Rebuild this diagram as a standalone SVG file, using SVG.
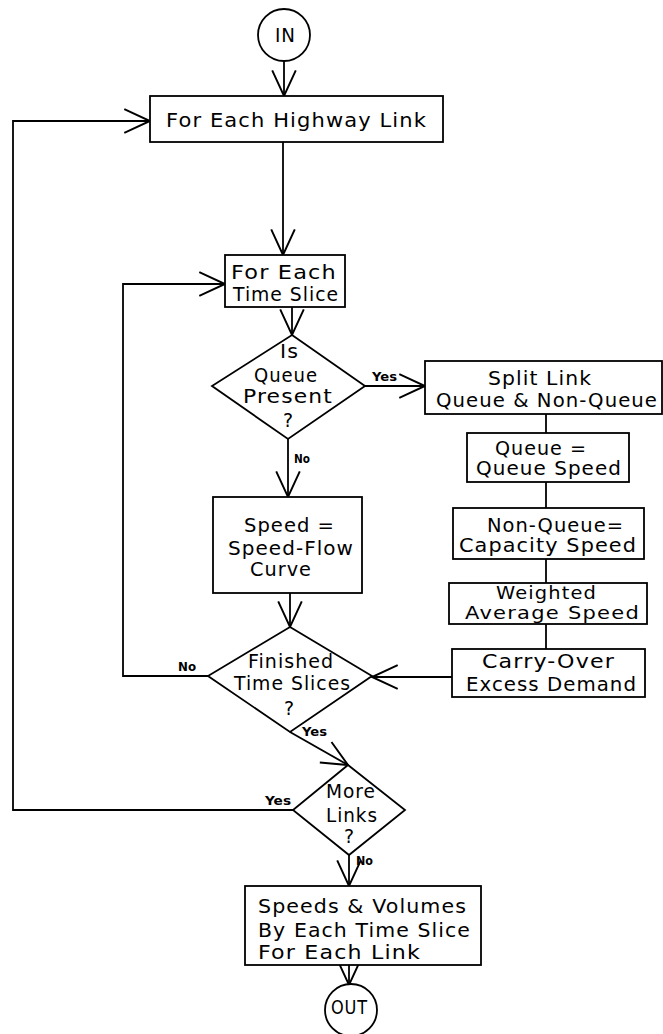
<svg xmlns="http://www.w3.org/2000/svg" width="663" height="1034" viewBox="0 0 663 1034">
<style>
.s{fill:none;stroke:#000;stroke-width:1.8}
.n{fill:#fff;stroke:#000;stroke-width:1.8}
.t{font-family:"DejaVu Sans","Liberation Sans",sans-serif;font-size:19px;letter-spacing:1px;fill:#000}
.sm{font-size:17px}
.l{font-family:"DejaVu Sans","Liberation Sans",sans-serif;font-size:12px;font-weight:bold;fill:#000}
</style>
<defs>
<marker id="a" markerUnits="userSpaceOnUse" markerWidth="30" markerHeight="30" viewBox="-26 -14 28 28" refX="0" refY="0" orient="auto" overflow="visible">
<path d="M-24,-11 L0,0 L-24,11" fill="none" stroke="#000" stroke-width="1.8"/>
</marker>
</defs>
<rect width="663" height="1034" fill="#fff"/>
<g id="connectors">
<path class="s" d="M284,61 V96" marker-end="url(#a)"/>
<path class="s" d="M283,142 V255" marker-end="url(#a)"/>
<path class="s" d="M293,810 H13 V121 H150" marker-end="url(#a)"/>
<path class="s" d="M292,307 V335" marker-end="url(#a)"/>
<path class="s" d="M208,676 H123 V284 H225" marker-end="url(#a)"/>
<path class="s" d="M365,386 H425" marker-end="url(#a)"/>
<path class="s" d="M288,439 V497" marker-end="url(#a)"/>
<path class="s" d="M546,414 V433"/>
<path class="s" d="M546,482 V508"/>
<path class="s" d="M546,559 V583"/>
<path class="s" d="M546,624 V649"/>
<path class="s" d="M452,677 H372" marker-end="url(#a)"/>
<path class="s" d="M290,593 V627" marker-end="url(#a)"/>
<path class="s" d="M290,732 L348,765" marker-end="url(#a)"/>
<path class="s" d="M349,855 V886" marker-end="url(#a)"/>
<path class="s" d="M349,965 V985" marker-end="url(#a)"/>
<text class="l" x="372" y="381" textLength="25" lengthAdjust="spacingAndGlyphs">Yes</text>
<text class="l" x="294" y="463" textLength="16" lengthAdjust="spacingAndGlyphs">No</text>
<text class="l" x="178" y="671" textLength="18" lengthAdjust="spacingAndGlyphs">No</text>
<text class="l" x="302" y="736" textLength="25" lengthAdjust="spacingAndGlyphs">Yes</text>
<text class="l" x="265" y="805" textLength="26" lengthAdjust="spacingAndGlyphs">Yes</text>
<text class="l" x="356" y="865" textLength="17" lengthAdjust="spacingAndGlyphs">No</text>
</g>
<g id="in">
<circle class="n" cx="284" cy="35" r="26"/>
<text class="t" x="275" y="42" textLength="21" lengthAdjust="spacingAndGlyphs">IN</text>
</g>
<g id="highway">
<rect class="n" x="150" y="96" width="293" height="46"/>
<text class="t" x="166" y="127" textLength="261" lengthAdjust="spacingAndGlyphs">For Each Highway Link</text>
</g>
<g id="timeslice">
<rect class="n" x="225" y="255" width="120" height="52"/>
<text class="t" x="231" y="279" textLength="106" lengthAdjust="spacingAndGlyphs">For Each</text>
<text class="t" x="233" y="301" textLength="106" lengthAdjust="spacingAndGlyphs">Time Slice</text>
</g>
<g id="queue-present">
<polygon class="n" points="292,335 365,386 288,439 212,386"/>
<text class="t" x="280" y="358" textLength="19" lengthAdjust="spacingAndGlyphs">Is</text>
<text class="t" x="254" y="382" textLength="64" lengthAdjust="spacingAndGlyphs">Queue</text>
<text class="t" x="243" y="403" textLength="90" lengthAdjust="spacingAndGlyphs">Present</text>
<text class="t" x="283" y="427">?</text>
</g>
<g id="split">
<rect class="n" x="425" y="361" width="237" height="53"/>
<text class="t" x="488" y="385" textLength="104" lengthAdjust="spacingAndGlyphs">Split Link</text>
<text class="t" x="436" y="407" textLength="222" lengthAdjust="spacingAndGlyphs">Queue &amp; Non-Queue</text>
</g>
<g id="queue-speed">
<rect class="n" x="467" y="433" width="162" height="49"/>
<text class="t" x="495" y="455" textLength="92" lengthAdjust="spacingAndGlyphs">Queue =</text>
<text class="t" x="476" y="475" textLength="146" lengthAdjust="spacingAndGlyphs">Queue Speed</text>
</g>
<g id="capacity-speed">
<rect class="n" x="453" y="508" width="191" height="51"/>
<text class="t" x="487" y="532" textLength="137" lengthAdjust="spacingAndGlyphs">Non-Queue=</text>
<text class="t" x="459" y="552" textLength="178" lengthAdjust="spacingAndGlyphs">Capacity Speed</text>
</g>
<g id="weighted">
<rect class="n" x="449" y="583" width="198" height="41"/>
<text class="t sm" x="496" y="599" textLength="101" lengthAdjust="spacingAndGlyphs">Weighted</text>
<text class="t sm" x="465" y="619" textLength="175" lengthAdjust="spacingAndGlyphs">Average Speed</text>
</g>
<g id="carry-over">
<rect class="n" x="452" y="649" width="193" height="48"/>
<text class="t" x="482" y="668" textLength="133" lengthAdjust="spacingAndGlyphs">Carry-Over</text>
<text class="t" x="466" y="691" textLength="171" lengthAdjust="spacingAndGlyphs">Excess Demand</text>
</g>
<g id="speed-flow">
<rect class="n" x="213" y="497" width="149" height="96"/>
<text class="t" x="244" y="532" textLength="91" lengthAdjust="spacingAndGlyphs">Speed =</text>
<text class="t" x="228" y="555" textLength="126" lengthAdjust="spacingAndGlyphs">Speed-Flow</text>
<text class="t" x="250" y="576" textLength="62" lengthAdjust="spacingAndGlyphs">Curve</text>
</g>
<g id="finished">
<polygon class="n" points="290,627 372,676 290,732 208,676"/>
<text class="t" x="248" y="668" textLength="86" lengthAdjust="spacingAndGlyphs">Finished</text>
<text class="t" x="234" y="690" textLength="117" lengthAdjust="spacingAndGlyphs">Time Slices</text>
<text class="t" x="284" y="715">?</text>
</g>
<g id="more-links">
<polygon class="n" points="348,765 405,810 349,855 293,810"/>
<text class="t" x="326" y="798" textLength="50" lengthAdjust="spacingAndGlyphs">More</text>
<text class="t" x="326" y="822" textLength="52" lengthAdjust="spacingAndGlyphs">Links</text>
<text class="t" x="344" y="843">?</text>
</g>
<g id="output">
<rect class="n" x="245" y="886" width="236" height="79"/>
<text class="t" x="258" y="913" textLength="209" lengthAdjust="spacingAndGlyphs">Speeds &amp; Volumes</text>
<text class="t" x="258" y="937" textLength="213" lengthAdjust="spacingAndGlyphs">By Each Time Slice</text>
<text class="t" x="258" y="959" textLength="163" lengthAdjust="spacingAndGlyphs">For Each Link</text>
</g>
<g id="out">
<circle class="n" cx="351" cy="1010" r="26"/>
<text class="t" x="331" y="1014" textLength="37" lengthAdjust="spacingAndGlyphs">OUT</text>
</g>
</svg>
